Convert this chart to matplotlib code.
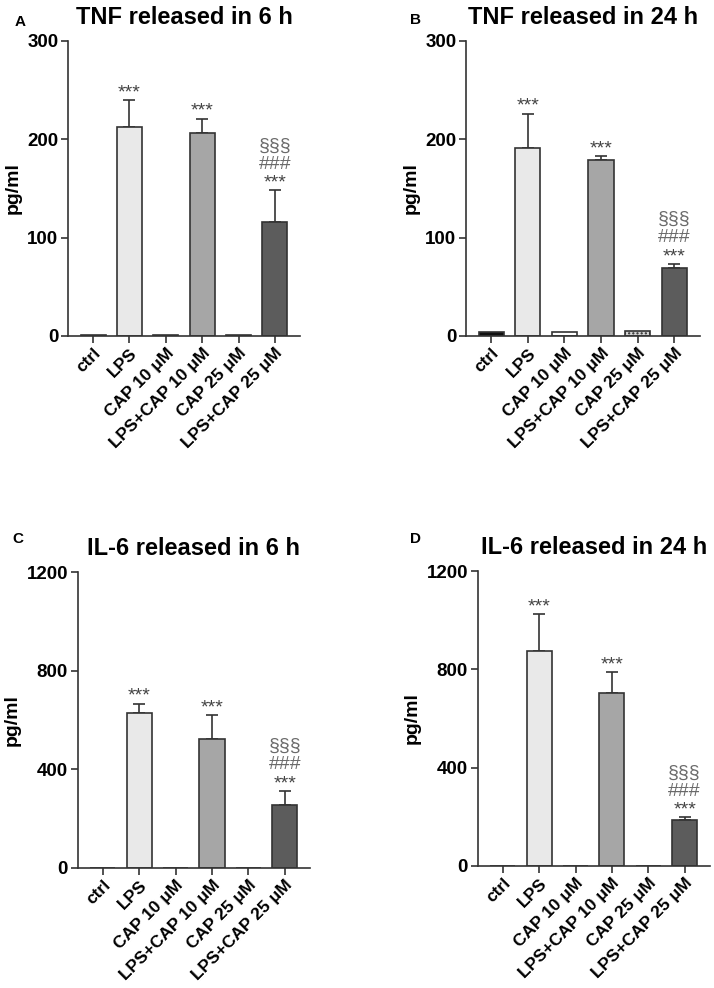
import numpy as np
import matplotlib
matplotlib.use('Agg')
import matplotlib.pyplot as plt

plt.rcParams['font.family'] = ['Liberation Sans', 'DejaVu Sans']

# %% Data
groups = ['ctrl', 'LPS', 'CAP 10 μM', 'LPS+CAP 10 μM', 'CAP 25 μM', 'LPS+CAP 25 μM']

tnf_6h = [0.5, 212, 0.5, 206, 1, 116]
tnf_6h_err = [0, 28, 0, 15, 0, 32]
tnf_24h = [4, 191, 4, 179, 5, 69]
tnf_24h_err = [0, 35, 0, 4, 0, 4]
il6_6h = [0, 630, 0, 523, 0, 257]
il6_6h_err = [0, 36, 0, 98, 0, 55]
il6_24h = [0, 873, 0, 703, 0, 186]
il6_24h_err = [0, 152, 0, 85, 0, 12]

# significance marks: (group index, lines from bottom to top)
marks = [(1, ['***']), (3, ['***']), (5, ['***', '###', '§§§'])]

bar_colors = ['#111111', '#e9e9e9', '#ffffff', '#a6a6a6', '#d4d4d4', '#5c5c5c']
edge = '#333333'

panels = [
    ('A', 'TNF released in 6 h', tnf_6h, tnf_6h_err, [0, 100, 200, 300],
     [0.0952, 0.660, 0.325, 0.2986], (0.021, 0.985)),
    ('B', 'TNF released in 24 h', tnf_24h, tnf_24h_err, [0, 100, 200, 300],
     [0.6527, 0.660, 0.327, 0.2986], (0.574, 0.987)),
    ('C', 'IL-6 released in 6 h', il6_6h, il6_6h_err, [0, 400, 800, 1200],
     [0.109, 0.1215, 0.325, 0.2995], (0.018, 0.462)),
    ('D', 'IL-6 released in 24 h', il6_24h, il6_24h_err, [0, 400, 800, 1200],
     [0.669, 0.1235, 0.325, 0.2985], (0.574, 0.462)),
]

fig = plt.figure(figsize=(7.14, 9.88), dpi=100)
for letter, title, vals, errs, yt, rect, lpos in panels:
    ax = fig.add_axes(rect)
    x = np.arange(len(groups))
    cols = list(bar_colors)
    if letter != 'B':
        cols[0] = '#ffffff'
    bars = ax.bar(x, vals, width=0.69, color=cols, edgecolor=edge, linewidth=1.2, zorder=2)
    if letter == 'B':
        bars[4].set_hatch('....')
    # upper error bars only
    err_idx = [i for i in range(len(vals)) if errs[i] > 0]
    ax.errorbar(x[err_idx], np.array(vals)[err_idx],
                yerr=[np.zeros(len(err_idx)), np.array(errs)[err_idx]],
                fmt='none', ecolor=edge, elinewidth=1.2, capsize=4.5, capthick=1.2, zorder=1)
    ymax = yt[-1]
    step = ymax * 0.062
    for i, lines in marks:
        base = vals[i] + errs[i] + ymax * 0.008
        for k, txt in enumerate(lines):
            if txt == '***':
                ax.text(i, base - ymax * 0.012, txt, ha='center', va='bottom',
                        fontsize=14, color='#444444')
            else:
                ax.text(i, base + k * step - ymax * 0.01, txt, ha='center', va='bottom',
                        fontsize=14, color='#6a6a6a')
    ax.set_xlim(-0.69, 5.69)
    ax.set_ylim(0, ymax)
    ax.set_yticks(yt)
    ax.set_xticks(x)
    ax.set_xticklabels(groups, rotation=45, ha='right', rotation_mode='anchor',
                       fontsize=12.5, fontweight='bold')
    for lab in ax.get_yticklabels():
        lab.set_fontsize(13.5)
        lab.set_fontweight('bold')
    ax.tick_params(direction='out', length=5, width=1.2, color=edge, pad=2)
    ax.spines['top'].set_visible(False)
    ax.spines['right'].set_visible(False)
    for s in ['left', 'bottom']:
        ax.spines[s].set_color(edge)
        ax.spines[s].set_linewidth(1.2)
    ax.set_ylabel('pg/ml', fontsize=14, fontweight='bold', labelpad=4)
    ax.set_title(title, fontsize=17, fontweight='bold', pad=12)
    fig.text(lpos[0], lpos[1], letter, fontsize=11, fontweight='bold', va='top')

fig.savefig('out.png', dpi=100)
